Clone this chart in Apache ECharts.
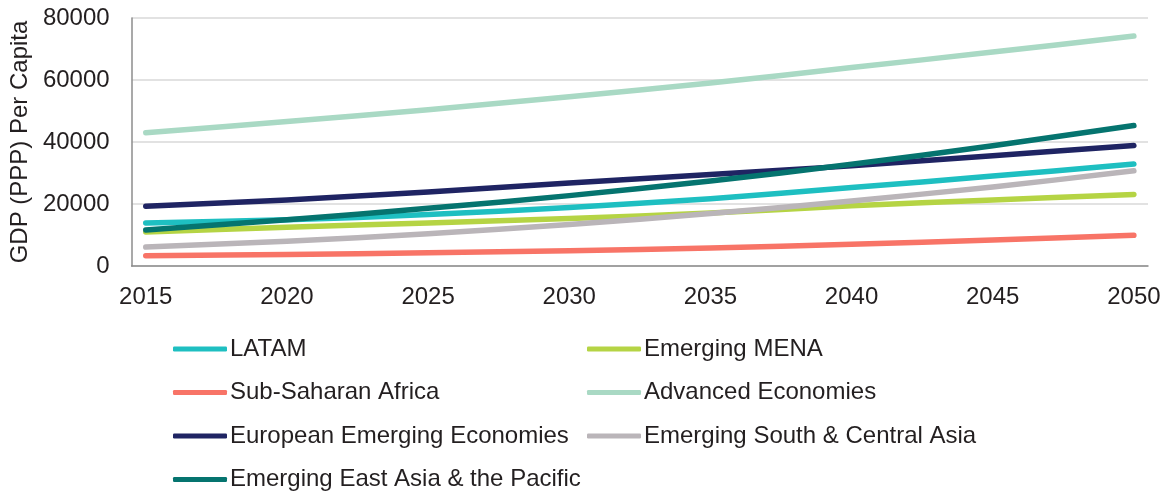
<!DOCTYPE html>
<html>
<head>
<meta charset="utf-8">
<script src="https://cdn.jsdelivr.net/npm/echarts@6/dist/echarts.min.js"></script>
<style>
  html, body { margin: 0; padding: 0; background: #ffffff; }
  #chart { width: 1169px; height: 496px; }
</style>
</head>
<body>
<div id="chart"></div>
<script>
// GDP (PPP) per capita projections by region, 2015-2050
const years = [2015, 2020, 2025, 2030, 2035, 2040, 2045, 2050];
const yTicks = [0, 20000, 40000, 60000, 80000];

const latam      = [13900, 14900, 16600, 18900, 21700, 25300, 29000, 32900];
const mena       = [11000, 12500, 13900, 15300, 17100, 19400, 21300, 23100];
const ssa        = [3300, 3700, 4300, 4900, 5800, 7000, 8400, 9900];
const advanced   = [43000, 46600, 50400, 54600, 59000, 64000, 69000, 74200];
const euroEmerg  = [19300, 21300, 23900, 26800, 29500, 32300, 35600, 38900];
const southAsia  = [6100, 8000, 10400, 13400, 16900, 21000, 25500, 30700];
const eastAsia   = [11600, 14900, 18600, 22700, 27400, 32800, 38800, 45300];

const seriesDefs = [
  { name: 'LATAM', data: latam, color: '#1ebfc1' },
  { name: 'Emerging MENA', data: mena, color: '#b5d444' },
  { name: 'Sub-Saharan Africa', data: ssa, color: '#f87467' },
  { name: 'Advanced Economies', data: advanced, color: '#a9d9c4' },
  { name: 'European Emerging Economies', data: euroEmerg, color: '#1f2463' },
  { name: 'Emerging South & Central Asia', data: southAsia, color: '#bab5b9' },
  { name: 'Emerging East Asia & the Pacific', data: eastAsia, color: '#05746f' }
];

const FONT = '"Liberation Sans", Arial, sans-serif';
const TEXT = '#231f20';
const FS = 24;

const chart = echarts.init(document.getElementById('chart'), null, { renderer: 'canvas' });

const legendCommon = {
  orient: 'vertical',
  top: 337,
  height: 159,
  padding: 0,
  itemWidth: 54,
  itemHeight: 5,
  itemGap: 19.5,
  icon: 'roundRect',
  textStyle: { fontFamily: FONT, fontSize: FS, color: TEXT, padding: [0, 0, 0, -2] },
  selectedMode: false
};

chart.setOption({
  animation: false,
  backgroundColor: '#ffffff',
  grid: { left: 129, right: 21, top: 18, bottom: 230, containLabel: false },
  legend: [
    Object.assign({}, legendCommon, {
      left: 173,
      data: ['LATAM', 'Sub-Saharan Africa', 'European Emerging Economies', 'Emerging East Asia & the Pacific']
    }),
    Object.assign({}, legendCommon, {
      left: 587,
      data: ['Emerging MENA', 'Advanced Economies', 'Emerging South & Central Asia']
    })
  ],
  xAxis: {
    type: 'value',
    min: 2014.5,
    max: 2050.5,
    axisLine: { show: true, lineStyle: { color: '#8c8c8c', width: 1.5 } },
    axisTick: { show: false },
    splitLine: { show: false },
    axisLabel: {
      customValues: years,
      margin: 19,
      fontFamily: FONT,
      fontSize: FS,
      color: TEXT,
      formatter: v => String(v)
    }
  },
  yAxis: {
    type: 'value',
    min: yTicks[0],
    max: yTicks[yTicks.length - 1],
    interval: yTicks[1] - yTicks[0],
    name: 'GDP (PPP) Per Capita',
    nameLocation: 'middle',
    nameGap: 96,
    nameTextStyle: { fontFamily: FONT, fontSize: FS, color: TEXT },
    axisLine: { show: true, lineStyle: { color: '#8c8c8c', width: 1.5 } },
    axisTick: { show: false },
    splitLine: { show: true, lineStyle: { color: '#d9d9d9', width: 1.5 } },
    axisLabel: {
      margin: 22,
      fontFamily: FONT,
      fontSize: FS,
      color: TEXT,
      formatter: v => String(v)
    }
  },
  series: seriesDefs.map(s => ({
    name: s.name,
    type: 'line',
    data: years.map((y, i) => [y, s.data[i]]),
    smooth: 0.3,
    showSymbol: false,
    symbol: 'none',
    color: s.color,
    lineStyle: { color: s.color, width: 5.5, cap: 'round', join: 'round' },
    emphasis: { disabled: true }
  }))
});
</script>
</body>
</html>
